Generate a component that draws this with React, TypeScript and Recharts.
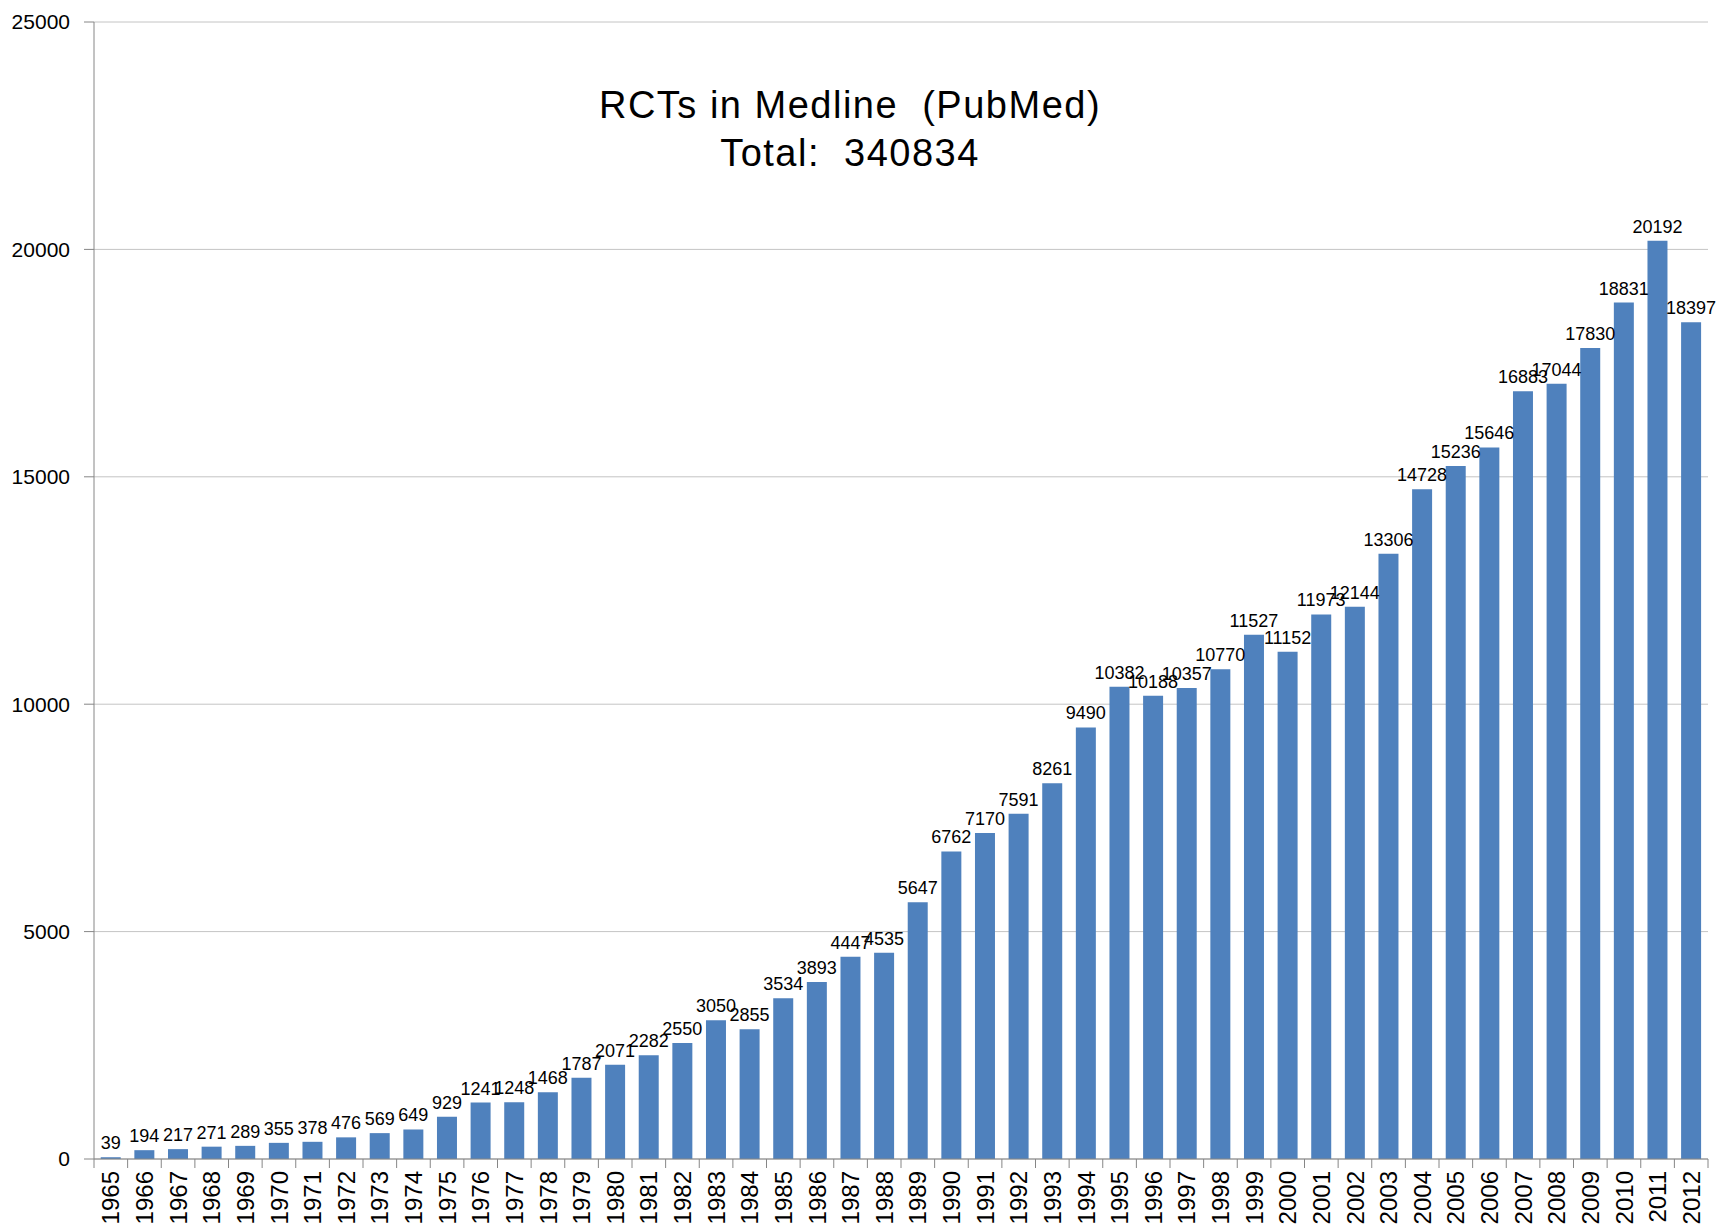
import { BarChart, Bar, CartesianGrid, XAxis, YAxis, LabelList } from "recharts";

const YEARS = [
  "1965","1966","1967","1968","1969","1970","1971","1972","1973","1974",
  "1975","1976","1977","1978","1979","1980","1981","1982","1983","1984",
  "1985","1986","1987","1988","1989","1990","1991","1992","1993","1994",
  "1995","1996","1997","1998","1999","2000","2001","2002","2003","2004",
  "2005","2006","2007","2008","2009","2010","2011","2012",
];
const RCT_COUNTS = [
  39, 194, 217, 271, 289, 355, 378, 476, 569, 649,
  929, 1241, 1248, 1468, 1787, 2071, 2282, 2550, 3050, 2855,
  3534, 3893, 4447, 4535, 5647, 6762, 7170, 7591, 8261, 9490,
  10382, 10188, 10357, 10770, 11527, 11152, 11973, 12144, 13306, 14728,
  15236, 15646, 16883, 17044, 17830, 18831, 20192, 18397,
];
const Y_TICKS = [0, 5000, 10000, 15000, 20000, 25000];
const TITLE = "RCTs in Medline  (PubMed)";
const SUBTITLE = "Total:  340834";

const W = 1731;
const H = 1226;
const FONT = "'Liberation Sans', Arial, sans-serif";
const BAR_BLUE = "#4F81BD";
const AXIS_GREY = "#868686";

const data = YEARS.map((y, i) => ({ year: y, n: RCT_COUNTS[i] }));

// year labels rotated, tick marks sit on the category edges like Excel does
function YearTick(props: any) {
  const { x, y, payload, index } = props;
  const half = payload?.offset ?? 16.8;
  const top = y - 12;
  const isLast = index === YEARS.length - 1;
  return (
    <g>
      <line x1={x - half} x2={x - half} y1={top} y2={top + 9} stroke={AXIS_GREY} />
      {isLast && <line x1={x + half} x2={x + half} y1={top} y2={top + 9} stroke={AXIS_GREY} />}
      <text
        x={x}
        y={y}
        transform={`rotate(-90, ${x}, ${y})`}
        textAnchor="end"
        dy="0.36em"
        fontSize={24}
        fontFamily={FONT}
        fill="#000"
      >
        {payload.value}
      </text>
    </g>
  );
}

export default function App() {
  return (
    <div style={{ position: "absolute", left: 0, top: 0, width: W, height: H, background: "#fff", overflow: "hidden" }}>
      <BarChart
        width={W}
        height={H}
        data={data}
        margin={{ top: 22, right: 23, bottom: 0, left: 0 }}
        barCategoryGap="20%"
      >
        <CartesianGrid vertical={false} stroke="#C4C4C4" strokeWidth={1} />
        <XAxis
          dataKey="year"
          interval={0}
          height={67}
          tickSize={9}
          tickMargin={3}
          tickLine={false}
          axisLine={{ stroke: AXIS_GREY }}
          tick={<YearTick />}
        />
        <YAxis
          domain={[0, 25000]}
          ticks={Y_TICKS}
          width={94}
          tickSize={10}
          tickMargin={14}
          axisLine={{ stroke: AXIS_GREY }}
          tickLine={{ stroke: AXIS_GREY }}
          tick={{ fontSize: 21, fontFamily: FONT, fill: "#000" }}
        />
        <Bar dataKey="n" fill={BAR_BLUE} isAnimationActive={false}>
          <LabelList
            dataKey="n"
            position="top"
            offset={8}
            fontSize={18}
            fontFamily={FONT}
            fill="#000"
          />
        </Bar>
      </BarChart>
      <div
        style={{
          position: "absolute",
          left: 0,
          top: 81,
          width: 1700,
          textAlign: "center",
          fontFamily: FONT,
          fontSize: 38,
          letterSpacing: "1.5px",
          lineHeight: "48px",
          whiteSpace: "pre",
          color: "#000",
        }}
      >
        <div>{TITLE}</div>
        <div>{SUBTITLE}</div>
      </div>
    </div>
  );
}
